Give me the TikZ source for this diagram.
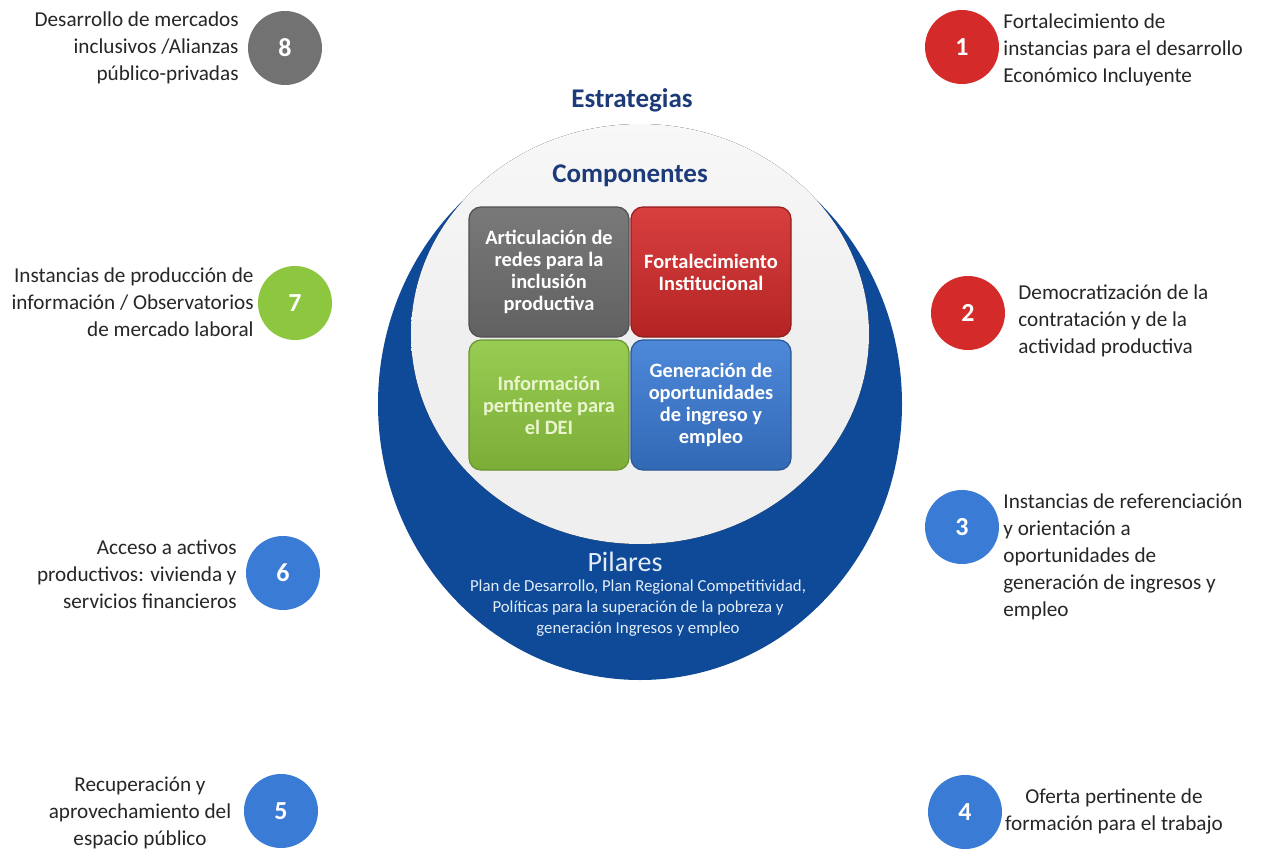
\documentclass[tikz,border=0pt]{standalone}
\usepackage{fontspec}
\setmainfont{Carlito}
\definecolor{ink}{HTML}{262626}
\definecolor{navy}{HTML}{1D3B78}
\definecolor{ring}{HTML}{0F4A98}
\definecolor{disc}{HTML}{EFEFEF}
\definecolor{pale}{HTML}{E3EDF8}
\definecolor{greyDot}{HTML}{727272}
\definecolor{redDot}{HTML}{D42A2A}
\definecolor{greenDot}{HTML}{8DC63F}
\definecolor{blueDot}{HTML}{3A7BD5}
\definecolor{greenText}{HTML}{EAF5CF}
\tikzset{
    numdot/.style={
        circle,
        minimum size=37pt,
        inner sep=0pt,
        text=white,
        font=\fontsize{13}{15}\selectfont\bfseries
    },
    itemleft/.style={
        font=\fontsize{10.6}{13.5}\selectfont,
        text=ink,
        align=right,
        anchor=east,
        inner sep=0pt
    },
    itemright/.style={
        font=\fontsize{10.6}{13.5}\selectfont,
        text=ink,
        align=left,
        anchor=west,
        inner sep=0pt
    },
    itemcenter/.style={
        font=\fontsize{10.6}{13.5}\selectfont,
        text=ink,
        align=center,
        inner sep=0pt
    },
    compbox/.style={
        rounded corners=6pt,
        minimum width=80pt,
        minimum height=65pt,
        inner sep=2pt,
        align=center,
        text=white,
        line width=0.6pt,
        font=\fontsize{10.2}{11}\selectfont\bfseries
    },
    heading/.style={
        font=\fontsize{13.5}{15}\selectfont\bfseries,
        text=navy
    }
}

\begin{document}
\begin{tikzpicture}[x=0.5pt,y=-0.5pt]
    \useasboundingbox (0,0) rectangle (1264,856);

    % Pilares ring and component disc
    \fill[ring] (640,404) ellipse [x radius=262, y radius=276];
    \fill[top color=disc!45!white, bottom color=disc, middle color=disc]
        (640,334) ellipse [x radius=229, y radius=210];

    % Headings
    \node[heading] (estrategias) at (632,100) {Estrategias};
    \node[heading] (componentes) at (630,176) {Componentes};

    % Components
    \node[compbox, draw=greyDot!70!black, top color=greyDot!95!white, bottom color=greyDot!85!black]
        (articulacion) at (549,272) {Articulación de\\redes para la\\inclusión\\productiva};
    \node[compbox, draw=redDot!70!black, top color=redDot!90!white, bottom color=redDot!85!black]
        (fortalecimiento) at (711,272) {Fortalecimiento\\Institucional};
    \node[compbox, draw=greenDot!75!black, top color=greenDot!90!white, bottom color=greenDot!88!black, text=greenText]
        (informacion) at (549,405) {Información\\pertinente para\\el DEI};
    \node[compbox, draw=blueDot!70!black, top color=blueDot!90!white, bottom color=blueDot!85!black]
        (generacion) at (711,405) {Generación de\\oportunidades\\de ingreso y\\empleo};

    % Pilares
    \node[font=\fontsize{14}{16}\selectfont, text=pale, inner sep=0pt] (pilares) at (625,562) {Pilares};
    \node[font=\fontsize{8.4}{10.5}\selectfont, text=pale, align=center, inner sep=0pt] (planes) at (638,608)
        {Plan de Desarrollo, Plan Regional Competitividad,\\
         Políticas para la superación de la pobreza y\\
         generación Ingresos y empleo};

    % Strategies, right side
    \node[numdot, fill=redDot] (s1) at (962,47) {1};
    \node[itemright] (t1) at (1003,50)
        {Fortalecimiento de\\instancias para el desarrollo\\Económico Incluyente};
    \node[numdot, fill=redDot] (s2) at (968,313) {2};
    \node[itemright] (t2) at (1018,321)
        {Democratización de la\\contratación y de la\\actividad productiva};
    \node[numdot, fill=blueDot] (s3) at (962,527) {3};
    \node[itemright] (t3) at (1003,557)
        {Instancias de referenciación\\y orientación a\\oportunidades de\\generación de ingresos y\\empleo};
    \node[numdot, fill=blueDot] (s4) at (965,812) {4};
    \node[itemcenter] (t4) at (1114,811)
        {Oferta pertinente de\\formación para el trabajo};

    % Strategies, left side
    \node[numdot, fill=blueDot] (s5) at (281,811) {5};
    \node[itemcenter] (t5) at (140,813)
        {Recuperación y\\aprovechamiento del\\espacio público};
    \node[numdot, fill=blueDot] (s6) at (283,573) {6};
    \node[itemleft] (t6) at (237,574)
        {Acceso a activos\\productivos: vivienda y\\servicios financieros};
    \node[numdot, fill=greenDot] (s7) at (295,303) {7};
    \node[itemleft] (t7) at (254,302)
        {Instancias de producción de\\información / Observatorios\\de mercado laboral};
    \node[numdot, fill=greyDot] (s8) at (285,48) {8};
    \node[itemleft] (t8) at (239,48)
        {Desarrollo de mercados\\inclusivos /Alianzas\\público-privadas};

\end{tikzpicture}
\end{document}
